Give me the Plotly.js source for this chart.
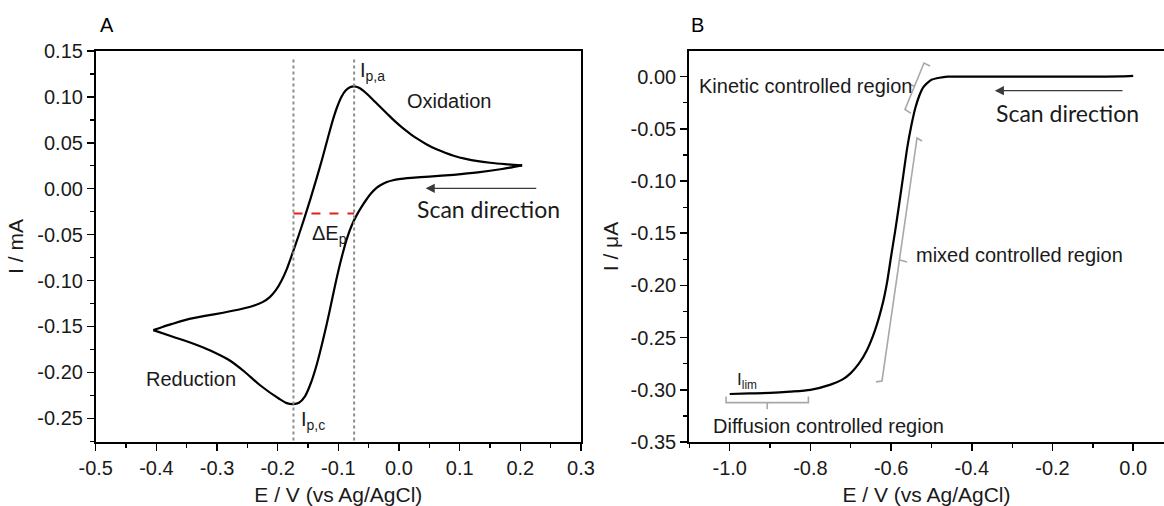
<!DOCTYPE html>
<html>
<head>
<meta charset="utf-8">
<script src="https://cdn.plot.ly/plotly-3.0.1.min.js"></script>
<style>html,body{margin:0;padding:0;background:#fff;}#chart{width:1164px;height:506px;}</style>
</head>
<body>
<div id="chart"></div>
<script>
// ---------- Panel A: cyclic voltammogram (E / V, I / mA), in scan order ----------
const cvE = [0.203, 0.170, 0.130, 0.090, 0.050, 0.020, 0.000, -0.010, -0.020, -0.030, -0.038, -0.046, -0.054, -0.062, -0.070, -0.078, -0.086, -0.095, -0.105, -0.115, -0.125, -0.135, -0.145, -0.155, -0.165, -0.174, -0.185, -0.197, -0.229, -0.255, -0.279, -0.305, -0.330, -0.355, -0.374, -0.405,
  -0.390, -0.374, -0.350, -0.320, -0.290, -0.260, -0.240, -0.225, -0.213, -0.203, -0.194, -0.185, -0.176, -0.166, -0.156, -0.146, -0.136, -0.126, -0.117, -0.109, -0.102, -0.095, -0.088, -0.081, -0.074, -0.066, -0.059, -0.050, -0.040, -0.030, -0.020, -0.010, 0.000, 0.010, 0.020, 0.030, 0.045, 0.060, 0.075, 0.090, 0.110, 0.130, 0.150, 0.175, 0.203];
const cvI = [0.0255, 0.0215, 0.0178, 0.0152, 0.0132, 0.0118, 0.0105, 0.0093, 0.0073, 0.0040, 0.0005, -0.0050, -0.0120, -0.0200, -0.0290, -0.0400, -0.0545, -0.0760, -0.1040, -0.1350, -0.1640, -0.1900, -0.2110, -0.2260, -0.2330, -0.2345, -0.2335, -0.2290, -0.2140, -0.1990, -0.1870, -0.1780, -0.1710, -0.1650, -0.1610, -0.1540,
  -0.1505, -0.1472, -0.1425, -0.1385, -0.1350, -0.1310, -0.1275, -0.1235, -0.1180, -0.1105, -0.1005, -0.0875, -0.0710, -0.0520, -0.0320, -0.0110, 0.0110, 0.0340, 0.0560, 0.0750, 0.0890, 0.1000, 0.1070, 0.1105, 0.1115, 0.1100, 0.1068, 0.1015, 0.0950, 0.0885, 0.0820, 0.0755, 0.0695, 0.0640, 0.0590, 0.0545, 0.0485, 0.0435, 0.0395, 0.0360, 0.0325, 0.0300, 0.0283, 0.0268, 0.0255];

// peak potentials and separation marker (panel A)
const peakE = [-0.174, -0.074];
const peakLineI = [0.1407, -0.2758];
const deltaEpI = -0.027;

// ---------- Panel B: linear sweep (E / V, I / uA) ----------
const lsvE = [-1.0, -0.95, -0.9, -0.85, -0.8, -0.75, -0.72, -0.70, -0.68, -0.66, -0.64, -0.62, -0.61, -0.60, -0.59, -0.58, -0.57, -0.56, -0.55, -0.54, -0.53, -0.52, -0.51, -0.50, -0.48, -0.46, -0.40, -0.30, -0.20, -0.10, -0.03, 0.0];
const lsvI = [-0.304, -0.3035, -0.303, -0.3018, -0.300, -0.295, -0.290, -0.284, -0.275, -0.262, -0.243, -0.216, -0.197, -0.172, -0.148, -0.122, -0.095, -0.068, -0.047, -0.030, -0.018, -0.010, -0.006, -0.003, -0.001, 0.0, 0.0, 0.0, 0.0, 0.0, 0.0003, 0.0008];

// region brackets (panel B)
const kineticBrE = [-0.5036, -0.5185, -0.5656, -0.5507];
const kineticBrI = [0.0102, 0.0131, -0.0314, -0.0352];
const kineticTickE = [-0.542, -0.5556];
const kineticTickI = [-0.0092, -0.0070];
const mixedBrE = [-0.5234, -0.5358, -0.6226, -0.6374];
const mixedBrI = [-0.0616, -0.0587, -0.2915, -0.2924];
const mixedTickE = [-0.578, -0.5606];
const mixedTickI = [-0.1756, -0.1775];
const diffBrE = [-1.009, -1.009, -0.805, -0.805];
const diffBrI = [-0.3065, -0.3123, -0.3123, -0.3065];
const diffTickE = [-0.907, -0.907];
const diffTickI = [-0.3123, -0.3186];

// ---------- ticks ----------
const axAxVals = [-0.5, -0.4, -0.3, -0.2, -0.1, 0.0, 0.1, 0.2, 0.3];
const axAxText = ['-0.5', '-0.4', '-0.3', '-0.2', '-0.1', '0.0', '0.1', '0.2', '0.3'];
const ayAxVals = [-0.25, -0.20, -0.15, -0.10, -0.05, 0.0, 0.05, 0.10, 0.15];
const ayAxText = ['-0.25', '-0.20', '-0.15', '-0.10', '-0.05', '0.00', '0.05', '0.10', '0.15'];
const bxAxVals = [-1.0, -0.8, -0.6, -0.4, -0.2, 0.0];
const bxAxText = ['-1.0', '-0.8', '-0.6', '-0.4', '-0.2', '0.0'];
const byAxVals = [-0.35, -0.30, -0.25, -0.20, -0.15, -0.10, -0.05, 0.0];
const byAxText = ['-0.35', '-0.30', '-0.25', '-0.20', '-0.15', '-0.10', '-0.05', '0.00'];

// ---------- styling ----------
const SANS = 'Liberation Sans, Arial, sans-serif';
const CAL = 'Lato, Open Sans, sans-serif';
const tickFont = {family: SANS, size: 20, color: '#1a1a1a'};
const labFont = {family: SANS, size: 20, color: '#1a1a1a'};
const titleFont = {family: SANS, size: 21, color: '#1a1a1a'};
const bigFont = {family: CAL, size: 23, color: '#1a1a1a'};
const bracketColor = '#a8a8a8';

// split the CV at the switching potential so both vertices stay sharp
const tipIdx = cvE.indexOf(Math.min(...cvE));
const cvBranches = [[0, tipIdx + 1], [tipIdx, cvE.length]];

const traces = [];
cvBranches.forEach(([a, b]) => {
  traces.push({x: cvE.slice(a, b), y: cvI.slice(a, b), xaxis: 'x', yaxis: 'y', mode: 'lines',
    line: {color: '#000', width: 2.2, shape: 'spline', smoothing: 0.7}, hoverinfo: 'skip'});
});
traces.push(
  {x: [peakE[0], peakE[0]], y: peakLineI, xaxis: 'x', yaxis: 'y', mode: 'lines', line: {color: '#8c8c8c', width: 2, dash: 'dot'}, hoverinfo: 'skip'},
  {x: [peakE[1], peakE[1]], y: peakLineI, xaxis: 'x', yaxis: 'y', mode: 'lines', line: {color: '#8c8c8c', width: 2, dash: 'dot'}, hoverinfo: 'skip'},
  {x: peakE, y: [deltaEpI, deltaEpI], xaxis: 'x', yaxis: 'y', mode: 'lines', line: {color: '#e3211c', width: 2, dash: 'dash'}, hoverinfo: 'skip'},
  {x: lsvE, y: lsvI, xaxis: 'x2', yaxis: 'y2', mode: 'lines', line: {color: '#000', width: 2.2, shape: 'spline', smoothing: 0.7}, hoverinfo: 'skip'},
  {x: kineticBrE, y: kineticBrI, xaxis: 'x2', yaxis: 'y2', mode: 'lines', line: {color: bracketColor, width: 1.6}, hoverinfo: 'skip'},
  {x: kineticTickE, y: kineticTickI, xaxis: 'x2', yaxis: 'y2', mode: 'lines', line: {color: bracketColor, width: 1.6}, hoverinfo: 'skip'},
  {x: mixedBrE, y: mixedBrI, xaxis: 'x2', yaxis: 'y2', mode: 'lines', line: {color: bracketColor, width: 1.6}, hoverinfo: 'skip'},
  {x: mixedTickE, y: mixedTickI, xaxis: 'x2', yaxis: 'y2', mode: 'lines', line: {color: bracketColor, width: 1.6}, hoverinfo: 'skip'},
  {x: diffBrE, y: diffBrI, xaxis: 'x2', yaxis: 'y2', mode: 'lines', line: {color: bracketColor, width: 1.6}, hoverinfo: 'skip'},
  {x: diffTickE, y: diffTickI, xaxis: 'x2', yaxis: 'y2', mode: 'lines', line: {color: bracketColor, width: 1.6}, hoverinfo: 'skip'}
);

function axisBase(vals, text, minorDt, minor0) {
  return {
    showline: true, linecolor: '#000', linewidth: 1.8,
    ticks: 'outside', ticklen: 7, tickwidth: 1.5, tickcolor: '#000',
    tickmode: 'array', tickvals: vals, ticktext: text, tickfont: tickFont,
    minor: {tickmode: 'linear', tick0: minor0, dtick: minorDt, ticks: 'outside', ticklen: 4, tickwidth: 1.3, tickcolor: '#000', showgrid: false},
    showgrid: false, zeroline: false, fixedrange: true
  };
}

const layout = {
  width: 1164, height: 506,
  margin: {l: 0, r: 0, t: 51, b: 64},
  paper_bgcolor: '#fff', plot_bgcolor: '#fff',
  showlegend: false,
  xaxis: Object.assign(axisBase(axAxVals, axAxText, 0.05, -0.5), {
    domain: [95.7 / 1164, 581 / 1164], range: [-0.5, 0.3], anchor: 'y', mirror: true,
    title: {text: 'E / V (vs Ag/AgCl)', font: titleFont, standoff: 12}
  }),
  yaxis: Object.assign(axisBase(ayAxVals, ayAxText, 0.025, -0.25), {
    domain: [0, 1], range: [-0.2758, 0.15], anchor: 'x', mirror: true,
    title: {text: 'I / mA', font: titleFont, standoff: 8}
  }),
  xaxis2: Object.assign(axisBase(bxAxVals, bxAxText, 0.1, -1.0), {
    domain: [689 / 1164, 1], range: [-1.1009, 0.0763], anchor: 'y2', mirror: true,
    title: {text: 'E / V (vs Ag/AgCl)', font: titleFont, standoff: 12}
  }),
  yaxis2: Object.assign(axisBase(byAxVals, byAxText, 0.025, -0.35), {
    domain: [0, 1], range: [-0.35, 0.0246], anchor: 'x2', mirror: false,
    title: {text: 'I / \u03bcA', font: titleFont, standoff: 6}
  }),
  annotations: [
    {xref: 'paper', yref: 'paper', x: 107 / 1164, y: (442 - 25) / 391, text: 'A', showarrow: false, xanchor: 'center', yanchor: 'middle', font: {family: SANS, size: 20, color: '#000'}},
    {xref: 'paper', yref: 'paper', x: 697 / 1164, y: (442 - 25) / 391, text: 'B', showarrow: false, xanchor: 'center', yanchor: 'middle', font: {family: SANS, size: 20, color: '#000'}},
    {xref: 'x', yref: 'y', x: -0.067, y: 0.1275, text: 'I<sub>p,a</sub>', showarrow: false, xanchor: 'left', yanchor: 'middle', font: labFont},
    {xref: 'x', yref: 'y', x: 0.0099, y: 0.0953, text: 'Oxidation', showarrow: false, xanchor: 'left', yanchor: 'middle', font: labFont},
    {xref: 'x', yref: 'y', x: 0.0264, y: -0.0221, text: 'Scan direction', showarrow: false, xanchor: 'left', yanchor: 'middle', font: bigFont},
    {xref: 'x', yref: 'y', x: -0.1467, y: -0.0503, text: '\u0394E<sub>p</sub>', showarrow: false, xanchor: 'left', yanchor: 'middle', font: labFont},
    {xref: 'x', yref: 'y', x: -0.1649, y: -0.2525, text: 'I<sub>p,c</sub>', showarrow: false, xanchor: 'left', yanchor: 'middle', font: labFont},
    {xref: 'x', yref: 'y', x: -0.4212, y: -0.2074, text: 'Reduction', showarrow: false, xanchor: 'left', yanchor: 'middle', font: labFont},
    {xref: 'x', yref: 'y', axref: 'x', ayref: 'y', x: 0.0439, y: 0.0004, ax: 0.2287, ay: 0.0004, text: '', showarrow: true, arrowhead: 2, arrowsize: 1.4, arrowwidth: 1.3, arrowcolor: '#3a3a3a', standoff: 0},
    {xref: 'x2', yref: 'y2', x: -1.081, y: -0.0089, text: 'Kinetic controlled region', showarrow: false, xanchor: 'left', yanchor: 'middle', font: labFont},
    {xref: 'x2', yref: 'y2', x: -0.345, y: -0.0349, text: 'Scan direction', showarrow: false, xanchor: 'left', yanchor: 'middle', font: bigFont},
    {xref: 'x2', yref: 'y2', x: -0.5433, y: -0.1708, text: 'mixed controlled region', showarrow: false, xanchor: 'left', yanchor: 'middle', font: labFont},
    {xref: 'x2', yref: 'y2', x: -1.0463, y: -0.3346, text: 'Diffusion controlled region', showarrow: false, xanchor: 'left', yanchor: 'middle', font: labFont},
    {xref: 'x2', yref: 'y2', x: -0.9869, y: -0.2915, text: 'I<sub>lim</sub>', showarrow: false, xanchor: 'left', yanchor: 'middle', font: {family: SANS, size: 17, color: '#1a1a1a'}},
    {xref: 'x2', yref: 'y2', axref: 'x2', ayref: 'y2', x: -0.343, y: -0.0134, ax: -0.0228, ay: -0.0134, text: '', showarrow: true, arrowhead: 2, arrowsize: 1.4, arrowwidth: 1.3, arrowcolor: '#3a3a3a', standoff: 0}
  ]
};

Plotly.newPlot('chart', traces, layout, {staticPlot: true, displayModeBar: false});
</script>
</body>
</html>
